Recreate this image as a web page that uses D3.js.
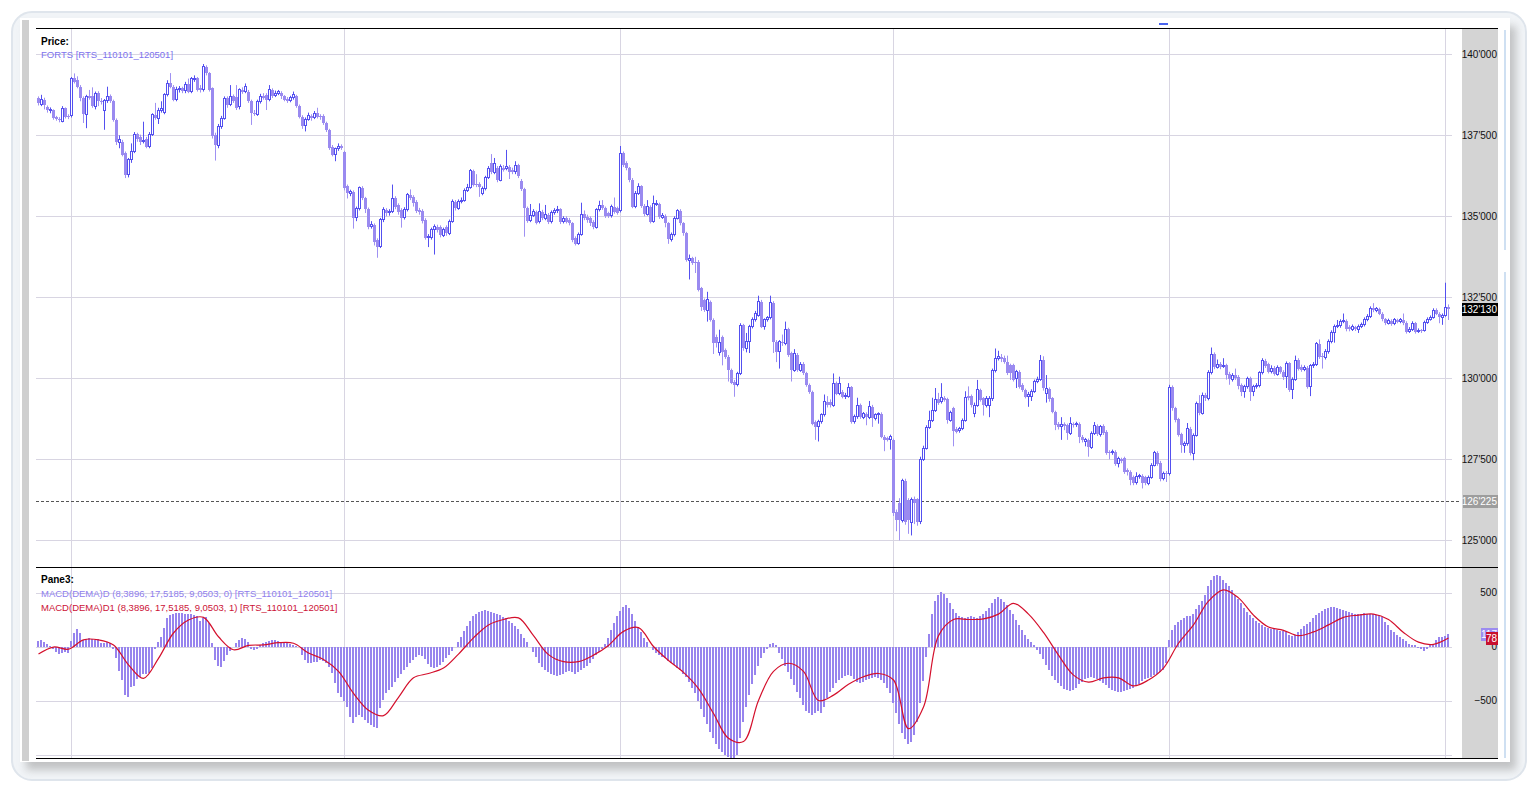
<!DOCTYPE html>
<html>
<head>
<meta charset="utf-8">
<script src="https://cdn.jsdelivr.net/npm/d3@7"></script>
<style>
  html, body { margin: 0; padding: 0; background: #fff; }
  svg { display: block; font-family: "Liberation Sans", Arial, sans-serif; }
</style>
</head>
<body>
<div id="chart"></div>
<script>
// Daily candles, prices in thousands of points (one row = 10 candles)
const open = [
  138.64,138.46,138.60,138.38,138.26,138.28,138.05,138.00,137.93,138.33,
  138.10,138.10,139.26,139.20,139.00,138.65,138.15,138.70,138.70,138.40,
  138.80,138.56,138.28,138.56,138.70,138.55,137.98,137.29,137.30,136.95,
  136.28,136.74,137.00,137.53,137.45,137.30,137.40,137.15,137.53,138.13,
  138.03,138.28,138.20,138.75,139.10,139.00,138.60,138.90,138.95,138.88,
  139.08,138.85,139.24,139.26,138.97,138.90,139.62,139.42,138.95,137.50,
  137.20,137.77,138.03,138.64,138.44,138.70,138.68,138.38,138.90,138.85,
  138.85,138.55,138.20,138.15,138.54,138.70,138.75,138.60,138.90,138.73,
  138.80,138.80,138.70,138.62,138.56,138.66,138.70,138.40,138.08,137.80,
  138.00,138.10,138.05,138.18,138.10,138.10,137.87,137.66,137.15,136.90,
  137.08,137.18,136.99,135.92,135.70,135.76,134.95,135.23,135.88,135.56,
  135.23,134.70,134.73,134.27,134.08,134.89,135.20,135.12,135.15,135.56,
  135.35,135.20,134.96,135.20,135.66,135.60,135.45,135.20,135.17,134.89,
  134.34,134.34,134.58,134.68,134.68,134.42,134.68,134.48,134.84,135.45,
  135.25,135.45,135.50,135.80,135.90,136.40,136.00,136.00,135.70,135.86,
  136.20,136.64,136.36,136.48,136.12,136.50,136.48,136.53,136.43,136.38,
  136.58,136.10,135.83,135.25,134.87,135.04,135.14,134.83,135.14,134.94,
  135.04,134.83,135.11,135.17,135.21,134.83,134.94,134.90,134.78,134.32,
  134.16,134.44,135.07,134.99,134.94,134.83,134.66,135.20,135.35,135.25,
  135.09,135.01,135.30,135.25,135.17,136.94,136.63,136.48,136.12,135.30,
  135.71,135.92,135.32,135.07,135.30,134.83,135.38,135.38,134.97,135.01,
  134.78,134.29,134.44,134.94,135.17,134.78,134.47,133.65,133.70,133.58,
  133.60,132.78,132.42,132.10,132.36,131.80,131.28,130.80,131.28,130.87,
  130.67,130.26,129.90,129.80,130.15,131.64,130.92,131.13,131.59,131.80,
  131.95,132.36,131.59,131.80,131.88,132.33,131.13,130.82,131.13,131.08,
  131.51,130.77,130.25,130.72,130.25,130.44,130.15,129.79,129.58,128.66,
  128.50,128.66,128.87,129.28,129.28,129.17,129.84,129.53,129.58,129.43,
  129.45,129.72,128.66,128.81,129.17,128.80,128.90,128.80,129.12,128.76,
  128.87,128.90,128.20,128.15,128.10,128.10,125.88,126.14,125.62,126.84,
  126.24,125.55,126.26,126.26,125.57,127.50,127.84,128.49,128.70,129.02,
  129.35,129.28,129.40,129.35,128.71,129.07,128.45,128.38,128.45,128.71,
  129.45,129.45,128.92,129.17,129.64,129.38,129.17,129.17,129.38,130.24,
  130.62,130.67,130.64,130.51,130.41,130.41,129.98,130.20,129.79,129.64,
  129.43,129.45,129.59,129.90,129.97,130.56,129.52,129.66,129.38,128.97,
  128.59,128.51,128.58,128.56,128.30,128.59,128.56,128.59,128.20,128.04,
  128.10,127.87,128.30,128.53,128.28,128.53,128.35,127.73,127.70,127.73,
  127.37,127.50,127.53,127.17,127.12,126.94,126.78,126.96,126.99,126.94,
  126.76,126.94,127.32,127.70,127.40,126.90,127.09,127.07,129.72,129.07,
  128.73,128.28,127.94,127.98,128.45,127.68,128.25,129.23,128.92,129.48,
  129.38,130.17,130.75,130.34,130.44,130.36,130.40,130.13,129.97,130.10,
  130.05,129.79,129.59,129.74,130.00,129.59,129.74,129.78,130.17,130.54,
  130.43,130.20,130.33,130.13,130.34,130.20,130.05,130.46,129.64,129.97,
  130.56,130.35,130.28,130.33,129.74,130.38,130.43,131.06,130.70,130.65,
  130.82,131.13,131.41,131.59,131.62,131.75,131.78,131.59,131.51,131.57,
  131.51,131.60,131.65,131.82,131.90,132.16,132.10,132.15,132.00,131.82,
  131.70,131.78,131.68,131.80,131.75,131.80,131.72,131.44,131.51,131.70,
  131.44,131.48,131.48,131.72,131.82,131.88,132.10,132.00,131.88,131.95,132.19
];
const high = [
  138.70,138.75,138.66,138.42,138.36,138.30,138.10,138.06,138.40,138.36,
  138.15,139.30,139.41,139.32,139.05,138.70,138.75,138.90,138.98,138.85,
  138.86,138.65,138.62,139.00,138.76,138.60,138.02,137.50,137.36,137.00,
  136.80,137.25,137.60,137.58,137.52,137.92,137.45,137.60,138.18,138.50,
  138.35,138.55,138.80,139.20,139.42,139.05,139.00,139.02,139.00,139.15,
  139.25,139.30,139.35,139.30,139.05,139.70,139.66,139.45,138.98,137.58,
  137.85,138.10,138.70,138.70,139.05,138.76,139.05,138.95,138.98,139.10,
  138.90,138.60,138.28,138.60,138.78,138.80,138.80,139.05,138.95,138.88,
  138.90,138.86,138.74,138.68,138.72,138.85,138.75,138.45,138.12,138.05,
  138.20,138.15,138.25,138.35,138.15,138.15,137.92,137.70,137.20,137.12,
  137.25,137.22,137.02,135.98,135.82,135.80,135.30,135.92,135.93,135.60,
  135.27,134.85,134.78,134.32,134.95,135.28,135.25,135.22,135.98,135.62,
  135.40,135.25,135.28,135.72,135.83,135.65,135.50,135.26,135.22,134.94,
  134.45,134.65,134.75,134.74,134.72,134.65,134.72,134.90,135.52,135.50,
  135.52,135.58,135.86,136.00,136.46,136.44,136.30,136.05,135.92,136.25,
  136.55,136.92,136.80,136.55,136.60,136.58,137.05,136.58,136.50,136.70,
  136.62,136.15,135.88,135.30,135.38,135.22,135.18,135.40,135.20,135.35,
  135.10,135.18,135.25,135.32,135.25,135.00,135.00,134.95,134.82,134.38,
  134.50,135.42,135.18,135.05,135.00,134.88,135.25,135.48,135.50,135.30,
  135.14,135.36,135.58,135.30,137.17,137.00,136.70,136.52,136.18,135.78,
  136.02,135.96,135.38,135.50,135.34,135.64,135.50,135.42,135.10,135.06,
  134.82,134.50,135.00,135.22,135.22,134.82,134.52,133.82,133.75,133.75,
  133.65,132.82,132.46,132.67,132.40,131.85,131.35,131.50,131.32,130.92,
  130.72,130.30,129.95,130.20,131.70,131.68,131.40,131.65,131.88,132.08,
  132.55,132.42,131.85,131.92,132.55,132.38,131.18,131.18,131.35,131.75,
  131.56,130.82,130.90,130.78,130.50,130.50,130.20,129.84,129.62,128.70,
  128.72,128.92,129.50,129.45,129.35,130.15,129.90,130.05,129.64,129.55,
  129.85,129.76,128.88,129.40,129.22,128.96,128.95,129.30,129.18,128.92,
  128.95,128.95,128.25,128.20,128.26,128.14,125.95,126.30,126.90,126.90,
  126.30,126.32,126.35,126.30,127.58,127.92,128.55,129.00,129.40,129.70,
  129.55,129.85,129.45,129.40,129.00,129.12,128.50,128.50,128.76,129.60,
  129.75,129.50,129.25,129.95,129.68,129.42,129.45,129.45,130.30,130.92,
  130.85,130.75,130.70,130.70,130.45,130.45,130.26,130.25,129.85,129.68,
  129.58,129.66,129.96,130.05,130.72,130.68,130.10,129.72,129.42,129.00,
  128.65,128.80,128.64,128.60,128.80,128.64,128.66,128.64,128.25,128.16,
  128.14,128.36,128.65,128.58,128.56,128.58,128.40,127.78,127.80,127.78,
  127.58,127.55,127.58,127.22,127.16,127.00,127.10,127.05,127.04,126.99,
  127.00,127.38,127.76,127.75,127.45,127.12,127.14,129.80,129.78,129.12,
  128.78,128.32,128.05,128.62,128.50,128.30,129.28,129.48,129.56,129.55,
  130.25,130.95,130.80,130.58,130.50,130.62,130.45,130.20,130.16,130.30,
  130.10,129.84,129.80,130.05,130.05,129.80,129.85,130.22,130.62,130.60,
  130.48,130.40,130.38,130.40,130.38,130.25,130.52,130.50,130.03,130.70,
  130.62,130.42,130.40,130.38,130.44,130.50,131.12,131.20,130.78,130.90,
  131.20,131.48,131.66,131.80,131.82,132.00,131.82,131.64,131.66,131.62,
  131.66,131.72,131.88,131.98,132.22,132.32,132.20,132.18,132.04,131.86,
  131.84,131.82,131.86,131.84,131.86,132.00,131.76,131.58,131.76,131.74,
  131.54,131.52,131.78,131.88,131.94,132.16,132.16,132.04,132.00,132.95,132.28
];
const low = [
  138.42,138.40,138.30,138.20,138.18,137.98,137.95,137.90,137.90,138.02,
  138.00,138.05,139.10,138.95,138.55,137.88,137.72,138.60,138.35,138.30,
  138.40,138.45,137.67,138.50,138.50,137.92,137.20,137.10,136.85,136.18,
  136.20,136.65,136.95,137.30,137.20,137.25,137.10,137.10,137.48,137.98,
  137.85,138.20,138.15,138.70,138.95,138.55,138.55,138.82,138.80,138.80,
  138.80,138.80,139.15,138.85,138.82,138.85,139.35,138.85,137.40,136.72,
  137.10,137.70,137.98,138.35,138.40,138.50,138.28,138.30,138.78,138.80,
  138.50,137.82,138.10,138.10,138.48,138.60,138.28,138.55,138.65,138.68,
  138.74,138.62,138.55,138.50,138.52,138.60,138.35,138.02,137.70,137.62,
  137.95,137.95,138.00,138.02,137.98,137.82,137.60,137.05,136.85,136.70,
  137.02,137.05,135.80,135.55,135.62,134.62,134.85,135.18,135.50,135.10,
  134.60,134.62,134.10,133.72,134.02,134.82,135.00,135.02,135.10,135.22,
  135.05,134.65,134.90,135.15,135.50,135.30,135.10,135.05,134.78,134.28,
  134.05,134.28,133.82,134.50,134.35,134.36,134.40,134.42,134.80,135.18,
  135.20,135.40,135.45,135.75,135.85,135.92,135.90,135.60,135.65,135.80,
  136.15,136.30,136.30,136.05,136.08,136.38,136.42,136.15,136.30,136.30,
  136.18,135.78,134.37,134.80,134.82,134.98,134.75,134.78,134.88,134.88,
  134.76,134.78,135.05,135.10,134.76,134.78,134.78,134.72,134.20,134.10,
  134.12,134.40,134.88,134.80,134.70,134.60,134.62,135.15,135.20,134.95,
  134.95,134.96,135.08,135.05,135.12,136.52,136.42,136.05,135.25,135.25,
  135.66,135.26,135.00,135.02,134.78,134.80,135.32,134.92,134.92,134.66,
  134.15,134.22,134.38,134.90,134.72,134.40,133.60,133.05,133.50,133.25,
  132.68,132.08,132.05,131.75,131.75,130.75,130.95,130.70,130.40,130.60,
  129.90,129.82,129.43,129.75,130.10,130.85,130.80,130.78,131.54,131.75,
  131.90,131.55,131.50,131.75,131.82,130.78,130.50,130.30,131.00,131.02,
  130.66,129.90,130.20,130.20,130.20,130.10,129.74,129.52,128.55,128.10,
  128.05,128.60,128.82,129.10,129.10,129.12,129.48,129.48,129.38,129.36,
  129.40,128.60,128.60,128.75,128.75,128.74,128.55,128.74,128.50,128.70,
  128.60,128.15,127.75,128.05,127.80,125.75,125.28,125.00,125.55,125.48,
  125.20,125.15,125.50,125.45,125.50,127.45,127.80,128.44,128.65,128.96,
  129.18,129.22,129.28,128.60,128.66,127.90,128.30,128.32,128.40,128.66,
  129.32,129.10,128.80,129.12,129.28,128.85,129.10,128.80,129.30,130.18,
  130.55,130.50,130.45,130.10,129.95,129.90,129.70,129.68,129.58,129.38,
  129.12,129.30,129.55,129.85,129.92,129.62,129.25,129.28,128.92,128.40,
  128.42,128.10,128.40,128.10,128.25,128.48,128.50,128.00,128.02,127.90,
  127.58,127.82,128.25,128.22,128.20,128.25,127.64,127.50,127.64,127.30,
  127.25,127.38,127.05,127.00,126.70,126.70,126.72,126.90,126.60,126.70,
  126.70,126.90,127.28,127.30,126.82,126.85,126.80,127.00,129.00,128.64,
  128.20,127.70,127.70,127.92,127.62,127.47,128.20,128.86,128.88,129.30,
  129.32,130.12,130.28,130.30,130.28,130.32,129.96,129.80,129.90,129.95,
  129.66,129.45,129.40,129.68,129.30,129.45,129.68,129.72,130.12,130.32,
  130.15,130.15,130.08,130.08,130.14,129.95,129.70,129.58,129.36,129.92,
  130.24,130.20,130.22,129.68,129.45,130.32,130.38,130.60,130.30,130.58,
  130.76,131.08,131.10,131.55,131.56,131.70,131.45,131.45,131.46,131.46,
  131.40,131.55,131.60,131.76,131.86,132.04,132.04,131.95,131.76,131.64,
  131.66,131.62,131.64,131.70,131.70,131.64,131.38,131.40,131.46,131.38,
  131.40,131.40,131.44,131.68,131.78,131.84,131.95,131.70,131.65,131.90,131.80
];
const close = [
  138.50,138.61,138.44,138.28,138.30,138.03,138.00,137.97,138.33,138.08,
  138.05,139.26,139.16,139.00,138.65,138.15,138.70,138.65,138.40,138.80,
  138.55,138.54,138.56,138.70,138.55,137.97,137.28,137.36,136.90,136.28,
  136.74,137.00,137.53,137.40,137.28,137.35,137.15,137.53,138.13,138.03,
  138.28,138.33,138.75,139.10,139.00,138.60,138.90,138.95,138.88,139.08,
  138.85,139.24,139.26,138.90,138.90,139.62,139.42,138.90,137.49,137.20,
  137.77,138.03,138.64,138.44,138.70,138.55,138.33,138.90,138.85,139.00,
  138.55,138.18,138.15,138.54,138.70,138.65,138.60,138.90,138.70,138.80,
  138.84,138.70,138.60,138.56,138.66,138.77,138.40,138.08,137.80,138.00,
  138.10,138.02,138.18,138.08,138.05,137.87,137.66,137.12,136.90,137.08,
  137.15,137.12,135.87,135.71,135.76,134.96,135.23,135.88,135.56,135.23,
  134.68,134.75,134.22,134.06,134.89,135.20,135.10,135.15,135.56,135.30,
  135.14,134.96,135.20,135.66,135.56,135.40,135.16,135.14,134.84,134.34,
  134.38,134.58,134.68,134.58,134.42,134.58,134.48,134.84,135.45,135.25,
  135.45,135.50,135.80,135.90,136.40,135.97,135.97,135.90,135.86,136.20,
  136.48,136.36,136.64,136.12,136.53,136.43,136.55,136.38,136.38,136.58,
  136.24,135.83,135.25,134.87,135.04,135.14,134.80,135.14,134.94,135.07,
  134.83,135.11,135.17,135.20,134.83,134.94,134.83,134.78,134.27,134.16,
  134.44,135.07,134.94,134.88,134.78,134.66,135.20,135.33,135.25,135.01,
  135.01,135.30,135.14,135.10,136.94,136.58,136.48,136.12,135.30,135.71,
  135.92,135.32,135.07,135.30,134.83,135.38,135.41,134.99,135.04,134.78,
  134.29,134.44,134.94,135.17,134.78,134.47,133.65,133.70,133.55,133.55,
  132.72,132.21,132.10,132.42,131.80,131.10,131.10,131.10,130.80,130.67,
  130.26,129.87,129.80,130.15,131.64,130.92,131.13,131.59,131.80,132.00,
  132.36,131.59,131.80,131.88,132.33,131.13,130.82,131.13,131.08,131.51,
  130.72,130.25,130.77,130.25,130.44,130.15,129.79,129.58,128.60,128.50,
  128.66,128.87,129.28,129.17,129.17,129.84,129.53,129.84,129.43,129.48,
  129.72,128.66,128.81,129.17,128.81,128.90,128.80,129.12,128.76,128.87,
  128.90,128.20,128.10,128.10,128.20,125.85,125.62,125.62,126.84,125.57,
  125.62,126.26,126.14,125.57,127.50,127.84,128.49,128.70,129.02,129.35,
  129.23,129.40,129.33,128.71,128.94,128.38,128.35,128.45,128.71,129.41,
  129.38,129.17,129.17,129.64,129.33,129.17,129.38,129.38,130.24,130.62,
  130.67,130.60,130.51,130.15,130.15,129.95,130.20,129.74,129.64,129.43,
  129.50,129.59,129.90,129.97,130.56,129.69,129.69,129.35,128.97,128.56,
  128.51,128.56,128.52,128.30,128.59,128.56,128.59,128.20,128.10,128.10,
  127.87,128.30,128.53,128.28,128.50,128.30,127.70,127.68,127.73,127.37,
  127.53,127.45,127.12,127.10,126.86,126.78,126.96,126.99,126.76,126.76,
  126.94,127.32,127.70,127.37,126.88,127.07,127.07,129.72,129.07,128.70,
  128.25,127.94,127.98,128.45,127.68,128.25,129.23,128.92,129.48,129.38,
  130.17,130.75,130.34,130.44,130.34,130.40,130.10,129.97,130.10,130.00,
  129.76,129.59,129.74,130.00,129.59,129.74,129.78,130.17,130.54,130.38,
  130.20,130.30,130.13,130.34,130.20,130.05,130.46,129.64,129.97,130.56,
  130.30,130.26,130.33,129.74,130.38,130.43,131.06,130.65,130.65,130.82,
  131.13,131.41,131.59,131.62,131.75,131.78,131.51,131.51,131.59,131.51,
  131.60,131.65,131.82,131.90,132.16,132.10,132.15,132.00,131.82,131.70,
  131.78,131.68,131.80,131.75,131.80,131.70,131.44,131.51,131.70,131.44,
  131.48,131.45,131.72,131.82,131.88,132.10,132.00,131.88,131.95,132.19,132.13
];

// MACD(DEMA) histogram, one bar per candle
const macdHist = [
  54,60,45,20,8,-23,-48,-70,-57,-48,
  -57,54,128,159,122,60,66,75,66,60,
  66,35,35,45,35,-26,-109,-224,-310,-449,
  -464,-378,-365,-304,-279,-254,-254,-242,-202,-26,
  45,85,168,261,292,301,307,307,307,301,
  301,301,292,282,239,261,276,214,35,-125,
  -180,-193,-131,-80,-39,-5,29,60,75,66,
  45,-20,-32,-25,10,30,45,52,60,60,
  55,45,36,30,22,15,8,-7,-79,-125,
  -156,-156,-140,-140,-125,-130,-156,-187,-249,-341,
  -434,-465,-500,-557,-650,-712,-650,-635,-650,-680,
  -712,-727,-745,-758,-573,-496,-434,-400,-372,-330,
  -290,-250,-218,-187,-156,-125,-94,-80,-90,-120,
  -160,-190,-200,-190,-170,-140,-110,-80,-40,0,
  40,90,140,190,240,280,300,320,330,335,
  330,320,310,300,290,275,260,240,220,190,
  160,120,80,40,0,-50,-100,-150,-190,-220,
  -240,-250,-260,-270,-265,-255,-240,-230,-240,-250,
  -240,-220,-200,-180,-150,-120,-80,-50,-20,20,
  80,150,220,280,330,370,385,360,300,240,
  180,130,80,40,0,-30,-60,-80,-100,-110,
  -130,-150,-170,-200,-220,-250,-280,-330,-380,-430,
  -500,-580,-650,-720,-790,-850,-900,-950,-980,-1000,
  -1020,-1050,-1040,-1000,-850,-700,-560,-450,-350,-260,
  -180,-110,-60,-20,20,30,10,-60,-120,-180,
  -240,-300,-360,-420,-480,-540,-600,-620,-635,-620,
  -600,-620,-560,-480,-420,-380,-340,-310,-290,-270,
  -260,-270,-300,-330,-340,-330,-310,-300,-290,-280,
  -290,-310,-340,-380,-430,-520,-620,-720,-800,-860,
  -900,-880,-820,-700,-520,-320,-100,120,300,420,
  480,505,490,450,400,350,310,280,270,260,
  270,280,270,260,280,300,330,360,400,440,
  460,440,410,380,340,300,250,200,150,110,
  70,40,10,-30,-70,-120,-170,-220,-270,-310,
  -340,-370,-390,-400,-410,-400,-380,-350,-330,-300,
  -290,-280,-290,-300,-320,-340,-360,-380,-400,-410,
  -420,-420,-410,-400,-390,-380,-370,-350,-320,-300,
  -290,-280,-260,-250,-240,-220,-150,60,150,200,
  230,250,260,280,280,300,350,380,420,480,
  560,620,650,660,650,620,590,560,520,480,
  440,400,360,320,290,260,240,220,200,180,
  170,160,160,150,140,140,130,110,100,110,
  130,160,190,210,230,260,290,310,330,345,
  355,365,370,360,350,340,330,320,310,300,
  300,305,310,305,300,300,295,290,270,230,
  200,153,130,110,91,70,55,20,12,10,
  -15,-25,-40,-20,14,25,60,85,88,100,117
];

// MACD(DEMA)D1 signal line, read every 5th candle
const signalIdx = d3.range(0, 471, 5);
const signalVal = [
  -70,-5,-25,62,62,14,-170,-295,-110,125,
  245,270,90,-30,10,15,35,30,-60,-120,
  -230,-434,-590,-640,-470,-290,-250,-200,-70,80,
  200,250,265,100,-75,-140,-140,-80,10,140,
  175,0,-130,-240,-390,-620,-850,-880,-500,-230,
  -155,-230,-500,-450,-350,-280,-250,-310,-760,-560,
  100,250,250,255,300,400,300,130,-80,-265,
  -330,-290,-290,-365,-310,-200,30,200,420,525,
  450,290,180,150,100,135,200,270,290,300,
  250,130,40,20,78
];

const priceTicks = [125, 127.5, 130, 132.5, 135, 137.5, 140];
const macdGrid = [-1000, -500, 0, 500];
const macdLabels = [-500, 0, 500];
const gridIdx = [11, 102, 194, 285, 377, 469];
const refPrice = 126.225;
const lastPrice = close[close.length - 1];
const lastHist = macdHist[macdHist.length - 1];
const lastSignal = signalVal[signalVal.length - 1];

const width = 1534, height = 786;
const left = 36, plotRight = 1462, axisRight = 1498;
const priceTop = 28, split = 567, bottom = 758;

const upColor = "#5450f0", downFill = "#9a8af0", downWick = "#9f91f2";
const gridColor = "#d8d5e2";
const fmt = v => d3.format(",")(Math.round(v * 1000)).replace(/,/g, "'");

const svg = d3.select("#chart").append("svg")
    .attr("width", width)
    .attr("height", height);

const defs = svg.append("defs");
defs.append("filter").attr("id", "blur")
    .append("feGaussianBlur").attr("stdDeviation", 4);
defs.append("clipPath").attr("id", "clipP")
    .append("rect").attr("x", left).attr("y", priceTop + 1)
    .attr("width", plotRight - left).attr("height", split - priceTop - 1);
defs.append("clipPath").attr("id", "clipM")
    .append("rect").attr("x", left).attr("y", split + 1)
    .attr("width", plotRight - left).attr("height", bottom - split - 1);

// window frame
svg.append("rect")
    .attr("x", 12).attr("y", 12).attr("width", 1514).attr("height", 768)
    .attr("rx", 20).attr("fill", "#f1f4f7").attr("stroke", "#dfe5ec").attr("stroke-width", 2);
svg.append("rect")
    .attr("x", 26).attr("y", 26).attr("width", 1490).attr("height", 744)
    .attr("fill", "#9a9a9a").attr("opacity", 0.55).attr("filter", "url(#blur)");
svg.append("rect")
    .attr("x", 20).attr("y", 18).attr("width", 1490).attr("height", 744)
    .attr("fill", "#fff");
svg.append("rect")
    .attr("x", 22).attr("y", 20).attr("width", 7).attr("height", 741)
    .attr("fill", "#cfcfcf");
svg.append("rect")
    .attr("x", 1504).attr("y", 30).attr("width", 2).attr("height", 220)
    .attr("fill", "#cfe0f2");
svg.append("rect")
    .attr("x", 1504).attr("y", 272).attr("width", 2).attr("height", 486)
    .attr("fill", "#cfe0f2");

// scales
const x = d3.scaleLinear().domain([0, 470]).range([38.5, 1448.5]);
const yP = d3.scaleLinear().domain([125, 140]).range([540.3, 54.3]);
const yM = d3.scaleLinear().domain([-1000, 500]).range([754.5, 592.5]);

// axis strip
svg.append("rect")
    .attr("x", plotRight).attr("y", priceTop)
    .attr("width", axisRight - plotRight).attr("height", bottom - priceTop)
    .attr("fill", "#d4d4d4");

// grid
const grid = svg.append("g").attr("stroke", gridColor).attr("shape-rendering", "crispEdges");
grid.selectAll("line.hp").data(priceTicks).join("line")
    .attr("x1", left).attr("x2", 1452)
    .attr("y1", d => Math.round(yP(d)) + 0.5).attr("y2", d => Math.round(yP(d)) + 0.5);
grid.selectAll("line.hm").data(macdGrid).join("line")
    .attr("x1", left).attr("x2", 1452)
    .attr("y1", d => Math.round(yM(d)) + 0.5).attr("y2", d => Math.round(yM(d)) + 0.5);
grid.selectAll("line.v").data(gridIdx).join("line")
    .attr("x1", d => x(d)).attr("x2", d => x(d))
    .attr("y1", priceTop).attr("y2", bottom);

// reference dashed line
svg.append("line")
    .attr("x1", left).attr("x2", 1460)
    .attr("y1", Math.round(yP(refPrice)) + 0.5).attr("y2", Math.round(yP(refPrice)) + 0.5)
    .attr("stroke", "#555").attr("stroke-dasharray", "3,2");

// candles
const idx = d3.range(close.length);
const isUp = i => close[i] >= open[i];
const gP = svg.append("g").attr("clip-path", "url(#clipP)");
gP.selectAll("line").data(idx).join("line")
    .attr("x1", i => x(i)).attr("x2", i => x(i))
    .attr("y1", i => yP(high[i])).attr("y2", i => yP(low[i]))
    .attr("stroke", i => isUp(i) ? upColor : downWick)
    .attr("stroke-width", 1);
gP.selectAll("rect").data(idx).join("rect")
    .attr("shape-rendering", "crispEdges")
    .attr("x", i => isUp(i) ? x(i) - 1 : x(i) - 1.5)
    .attr("width", i => isUp(i) ? 2 : 3)
    .attr("y", i => yP(Math.max(open[i], close[i])))
    .attr("height", i => Math.max(1, yP(Math.min(open[i], close[i])) - yP(Math.max(open[i], close[i]))))
    .attr("fill", i => isUp(i) ? "#fff" : downFill)
    .attr("stroke", i => isUp(i) ? upColor : "none")
    .attr("stroke-width", 1);

// MACD histogram and signal
const gM = svg.append("g").attr("clip-path", "url(#clipM)");
gM.selectAll("rect").data(idx).join("rect")
    .attr("shape-rendering", "crispEdges")
    .attr("x", i => x(i) - 1.5)
    .attr("width", 2)
    .attr("y", i => Math.min(yM(0), yM(macdHist[i])))
    .attr("height", i => Math.abs(yM(macdHist[i]) - yM(0)))
    .attr("fill", "#9784ee");

const sigLine = d3.line()
    .x((d, k) => x(signalIdx[k]))
    .y(d => yM(d))
    .curve(d3.curveCatmullRom);
gM.append("path")
    .attr("d", sigLine(signalVal))
    .attr("fill", "none")
    .attr("stroke", "#d4102c")
    .attr("stroke-width", 1.2);

// frame lines
const frame = svg.append("g").attr("stroke", "#000").attr("shape-rendering", "crispEdges");
[priceTop, split, bottom].forEach(yy => {
    frame.append("line").attr("x1", left).attr("x2", axisRight)
        .attr("y1", yy + 0.5).attr("y2", yy + 0.5);
});
svg.append("rect").attr("x", 1159).attr("y", 23).attr("width", 9).attr("height", 2)
    .attr("fill", "#4a64ee");

// axes
const axP = svg.append("g")
    .attr("transform", `translate(${axisRight - 1},0)`)
    .call(d3.axisLeft(yP).tickValues(priceTicks).tickSize(0).tickPadding(0).tickFormat(fmt));
axP.select(".domain").remove();
axP.attr("font-family", null).attr("font-size", 10);
axP.selectAll("text").attr("fill", "#111");

const axM = svg.append("g")
    .attr("transform", `translate(${axisRight - 1},0)`)
    .call(d3.axisLeft(yM).tickValues(macdLabels).tickSize(0).tickPadding(0));
axM.select(".domain").remove();
axM.attr("font-family", null).attr("font-size", 10);
axM.selectAll("text").attr("fill", "#111");

// value boxes
function valueBox(yy, txt, bg, x0) {
    svg.append("rect").attr("x", x0).attr("y", Math.round(yy) - 6)
        .attr("width", axisRight - x0).attr("height", 13).attr("fill", bg);
    svg.append("text").attr("x", axisRight - 1).attr("y", Math.round(yy) + 4)
        .attr("text-anchor", "end").attr("font-size", 10).attr("fill", "#fff").text(txt);
}
valueBox(yP(lastPrice), fmt(lastPrice), "#000", plotRight);
valueBox(yP(refPrice), fmt(refPrice), "#9d9d9d", plotRight + 1);
valueBox(yM(lastHist), lastHist, "#9c8cf0", 1481);
valueBox(yM(lastSignal), lastSignal, "#c8102e", 1486);

// titles
const titles = [
    { t: "Price:", y: 45, c: "#000", b: true },
    { t: "FORTS [RTS_110101_120501]", y: 58, c: "#7d72ee" },
    { t: "Pane3:", y: 583, c: "#000", b: true },
    { t: "MACD(DEMA)D (8,3896, 17,5185, 9,0503, 0) [RTS_110101_120501]", y: 597, c: "#8f80ee" },
    { t: "MACD(DEMA)D1 (8,3896, 17,5185, 9,0503, 1) [RTS_110101_120501]", y: 611, c: "#cc1236" }
];
svg.append("g").selectAll("text").data(titles).join("text")
    .attr("x", 41).attr("y", d => d.y)
    .attr("font-size", d => d.b ? 10 : 9.5)
    .attr("font-weight", d => d.b ? "bold" : "normal")
    .attr("fill", d => d.c)
    .text(d => d.t);
</script>
</body>
</html>
